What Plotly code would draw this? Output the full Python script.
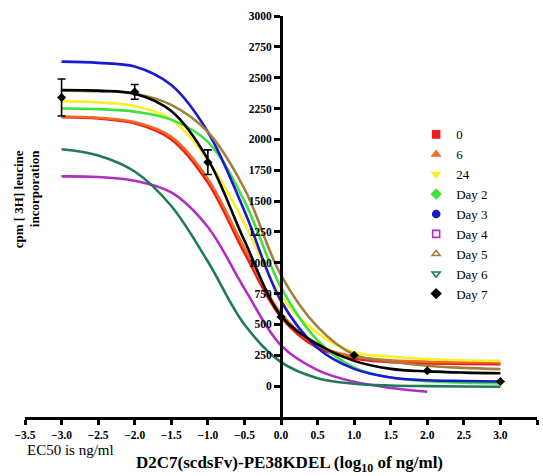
import plotly.graph_objects as go

# Log10 concentration grid (ng/ml) on which each fitted curve is sampled
x_grid = [-3.0, -2.5, -2.0, -1.5, -1.0, -0.5, 0.0, 0.5, 1.0, 1.5, 2.0, 2.5, 3.0]

# Fitted dose-response curves, cpm at each grid point
curve_0 = [2180, 2170, 2130, 2000, 1650, 1080, 560, 310, 225, 195, 185, 180, 178]
curve_6 = [2185, 2175, 2140, 2020, 1680, 1120, 590, 330, 240, 210, 198, 194, 192]
curve_24 = [2310, 2300, 2270, 2160, 1830, 1320, 730, 430, 275, 240, 220, 210, 205]
curve_day2 = [2250, 2245, 2225, 2160, 1980, 1500, 800, 370, 150, 70, 40, 28, 22]
curve_day3 = [2630, 2620, 2590, 2440, 2060, 1420, 690, 310, 140, 70, 48, 42, 38]
curve_day4 = [1700, 1695, 1665, 1570, 1290, 790, 330, 130, 35, -15, -45]
curve_day5 = [2395, 2390, 2370, 2280, 2060, 1600, 900, 480, 255, 200, 165, 148, 138]
curve_day6 = [1920, 1870, 1740, 1460, 1010, 500, 195, 65, 20, 5, 0, -3, -5]
curve_day7 = [2400, 2395, 2370, 2230, 1840, 1180, 570, 340, 205, 140, 120, 110, 105]

# Measured Day 7 points with error bars
day7_x = [-3, -2, -1, 0, 1, 2, 3]
day7_y = [2340, 2385, 1815, 560, 250, 125, 38]
day7_err = [150, 60, 100, 0, 0, 0, 0]

series_names = ["0", "6", "24", "Day 2", "Day 3", "Day 4", "Day 5", "Day 6", "Day 7"]
series_curves = [curve_0, curve_6, curve_24, curve_day2, curve_day3,
                 curve_day4, curve_day5, curve_day6, curve_day7]
series_colors = ["#ee1c1c", "#f26a22", "#f7f02a", "#3ee23e", "#1a1ad2",
                 "#b02ec4", "#a0803c", "#217a55", "#000000"]
series_symbols = ["square", "triangle-up", "triangle-down", "diamond", "circle",
                  "square-open", "triangle-up-open", "triangle-down-open", "diamond"]

y_ticks = list(range(0, 3001, 250))
x_ticks = [-3.5, -3.0, -2.5, -2.0, -1.5, -1.0, -0.5, 0.0, 0.5, 1.0, 1.5, 2.0, 2.5, 3.0, 3.5]

SERIF = "Liberation Serif, Times New Roman, DejaVu Serif, serif"

fig = go.Figure()

for name, ys, color in zip(series_names, series_curves, series_colors):
    fig.add_trace(go.Scatter(
        x=x_grid[:len(ys)], y=ys, mode="lines",
        line=dict(color=color, width=2.6, shape="spline", smoothing=1.0),
        showlegend=False, hoverinfo="skip",
    ))

fig.add_trace(go.Scatter(
    x=day7_x, y=day7_y, mode="markers",
    marker=dict(symbol="diamond", size=7, color="black"),
    error_y=dict(type="data", array=day7_err, color="black", thickness=1.6, width=4),
    showlegend=False,
))

# Legend entries (marker only)
for name, color, sym in zip(series_names, series_colors, series_symbols):
    fig.add_trace(go.Scatter(
        x=[None], y=[None], mode="markers", name=name,
        marker=dict(symbol=sym, size=7, color=color,
                    line=dict(color=color, width=1.6)),
    ))

title_font = dict(family=SERIF, size=13, color="black", weight="bold")

fig.update_layout(
    width=543, height=476,
    margin=dict(l=25, r=6, t=16, b=59),
    paper_bgcolor="white", plot_bgcolor="white",
    font=dict(family=SERIF, color="black"),
    legend=dict(
        x=0.764, y=0.742, xanchor="left", yanchor="top",
        font=dict(family=SERIF, size=13, color="black"),
        bgcolor="rgba(0,0,0,0)", borderwidth=0,
    ),
    xaxis=dict(
        range=[-3.5, 3.5], tickvals=x_ticks, tickformat=".1f",
        showgrid=False, zeroline=False,
        showline=True, linecolor="black", linewidth=3,
        ticks="outside", ticklen=5, tickwidth=2.5, tickcolor="black",
        tickfont=dict(family=SERIF, size=11.5, color="black", weight="bold"),
    ),
    yaxis=dict(
        range=[-250, 3000], tickvals=y_ticks,
        anchor="free", position=0.5,
        showgrid=False, zeroline=False,
        showline=True, linecolor="black", linewidth=3,
        ticks="outside", ticklen=6, tickwidth=2.5, tickcolor="black",
        tickfont=dict(family=SERIF, size=11.5, color="black", weight="bold"),
    ),
    annotations=[
        dict(text="cpm [ 3H] leucine", textangle=-90,
             xref="paper", yref="paper", x=-0.011, y=0.671,
             xanchor="center", yanchor="top", showarrow=False, font=title_font),
        dict(text="incorporation", textangle=-90,
             xref="paper", yref="paper", x=0.019, y=0.671,
             xanchor="center", yanchor="top", showarrow=False, font=title_font),
        dict(text="EC50 is ng/ml", xref="paper", yref="paper",
             x=0.0, y=-0.082, xanchor="left", yanchor="middle", showarrow=False,
             font=dict(family=SERIF, size=15, color="black")),
        dict(text="D2C7(scdsFv)-PE38KDEL (log<sub>10</sub> of ng/ml)",
             xref="paper", yref="paper", x=0.516, y=-0.116,
             xanchor="center", yanchor="middle", showarrow=False,
             font=dict(family=SERIF, size=17, color="black", weight="bold")),
    ],
)

fig.write_html("out.html")
